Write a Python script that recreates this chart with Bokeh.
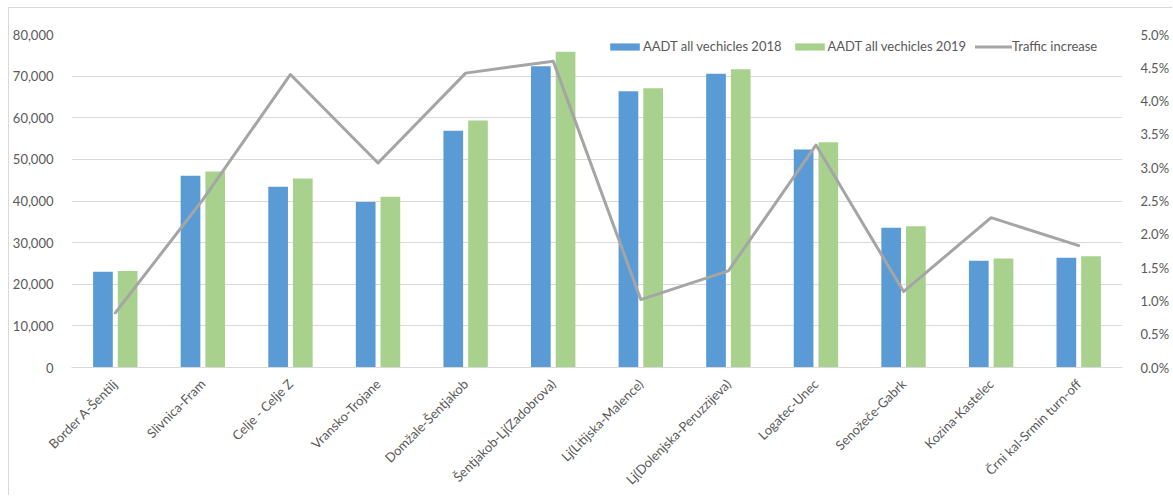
from bokeh.plotting import figure
from bokeh.models import (FactorRange, Range1d, LinearAxis, NumeralTickFormatter,
                          FixedTicker, Legend, LegendItem, ColumnDataSource)
from bokeh.transform import dodge
from bokeh.embed import file_html
from bokeh.resources import INLINE
from math import pi

sections = [
    "Border A-Šentilj", "Slivnica-Fram", "Celje - Celje Z", "Vransko-Trojane",
    "Domžale-Šentjakob", "Šentjakob-Lj(Zadobrova)", "Lj(Litijska-Malence)",
    "Lj(Dolenjska-Peruzzijeva)", "Logatec-Unec", "Senožeče-Gabrk",
    "Kozina-Kastelec", "Črni kal-Srmin turn-off",
]
aadt_2018 = [22990, 46050, 43400, 39730, 56860, 72400, 66390, 70550, 52370, 33560, 25630, 26350]
aadt_2019 = [23160, 47080, 45400, 41000, 59330, 75840, 67110, 71680, 54140, 33960, 26190, 26750]
traffic_increase = [0.0082, 0.0252, 0.0440, 0.0307, 0.0442, 0.0460,
                    0.0102, 0.0145, 0.0334, 0.0114, 0.0225, 0.0183]
left_ticks = [0, 10000, 20000, 30000, 40000, 50000, 60000, 70000, 80000]
right_ticks = [0.0, 0.005, 0.01, 0.015, 0.02, 0.025, 0.03, 0.035, 0.04, 0.045, 0.05]

FONT = "Lato"
TEXT = "#595959"
GRID = "#D9D9D9"
BLUE = "#5B9BD5"
GREEN = "#A9D18E"
GREY = "#A5A5A5"

src = ColumnDataSource(dict(section=sections, y2018=aadt_2018, y2019=aadt_2019,
                            inc=traffic_increase))

# chart box starts 8px in and 7px down, with a thin light frame on its top/left edges
p = figure(x_range=FactorRange(*sections, range_padding=0),
           y_range=Range1d(0, 80000),
           width=1164, height=488, output_backend="svg", toolbar_location=None,
           min_border_left=62, min_border_right=51, min_border_top=26, min_border_bottom=129,
           styles={"margin-left": "8px", "margin-top": "7px",
                   "border-left": "1px solid #D9D9D9", "border-top": "1px solid #D9D9D9"})
p.extra_y_ranges = {"pct": Range1d(0, 0.05)}

b1 = p.vbar(x=dodge("section", -0.141, range=p.x_range), top="y2018", width=0.225,
            source=src, fill_color=BLUE, line_color=None)
b2 = p.vbar(x=dodge("section", 0.141, range=p.x_range), top="y2019", width=0.225,
            source=src, fill_color=GREEN, line_color=None)
ln = p.line(x="section", y="inc", source=src, y_range_name="pct",
            line_color=GREY, line_width=3, line_join="round", line_cap="round")

p.outline_line_color = None
p.xgrid.grid_line_color = None
p.ygrid.grid_line_color = GRID
p.ygrid.ticker = FixedTicker(ticks=left_ticks)

ax_l = p.yaxis[0]
ax_l.ticker = FixedTicker(ticks=left_ticks)
ax_l.formatter = NumeralTickFormatter(format="0,0")

ax_r = LinearAxis(y_range_name="pct", ticker=FixedTicker(ticks=right_ticks),
                  formatter=NumeralTickFormatter(format="0.0%"))
p.add_layout(ax_r, "right")

for ax in (ax_l, ax_r):
    ax.axis_line_color = None
    ax.major_tick_line_color = None
    ax.minor_tick_line_color = None
    ax.major_label_text_font = FONT
    ax.major_label_text_font_size = "13px"
    ax.major_label_text_color = TEXT
ax_l.major_label_standoff = 12
ax_r.major_label_standoff = 12

ax_x = p.xaxis[0]
ax_x.axis_line_color = GRID
ax_x.major_tick_line_color = None
ax_x.major_label_orientation = pi / 4
ax_x.major_label_text_font = FONT
ax_x.major_label_text_font_size = "13px"
ax_x.major_label_text_color = TEXT
ax_x.major_label_standoff = 8

legend = Legend(items=[LegendItem(label="AADT all vechicles 2018", renderers=[b1]),
                       LegendItem(label="AADT all vechicles 2019", renderers=[b2]),
                       LegendItem(label="Traffic increase", renderers=[ln])],
                orientation="horizontal", location=(535, 313),
                padding=0, margin=0, spacing=9, label_standoff=0,
                glyph_width=37, glyph_height=9, label_height=14,
                label_text_font=FONT, label_text_font_size="13px",
                label_text_color=TEXT, border_line_color=None,
                background_fill_alpha=0)
p.add_layout(legend, "center")

open("out.html", "w").write(file_html(p, INLINE))
